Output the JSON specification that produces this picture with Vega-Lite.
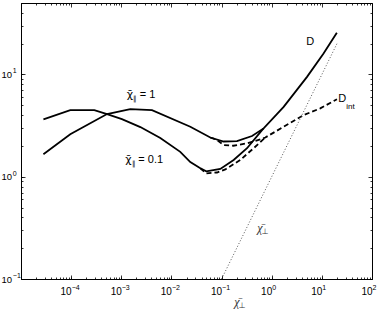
{
  "$schema": "https://vega.github.io/schema/vega-lite/v6.json",
  "width": 351,
  "height": 276,
  "autosize": "none",
  "padding": {"left": 21, "top": 3, "right": 10, "bottom": 32},
  "background": "white",
  "config": {
    "view": {"stroke": "black", "strokeWidth": 1},
    "font": "Liberation Sans",
    "axis": {
      "grid": false,
      "domainColor": "black",
      "domainWidth": 1,
      "tickColor": "black",
      "tickWidth": 0.8,
      "labelColor": "black",
      "labelFont": "Liberation Sans",
      "labelOverlap": false,
      "labelBound": false,
      "labelFlush": false,
      "title": null
    }
  },
  "datasets": {
    "curves": [
      {"kind": "D", "chi": "1", "x": 2.8e-5, "y": 1.66},
      {"kind": "D", "chi": "1", "x": 9.6e-5, "y": 2.60},
      {"kind": "D", "chi": "1", "x": 5.2e-4, "y": 4.10},
      {"kind": "D", "chi": "1", "x": 1.51e-3, "y": 4.59},
      {"kind": "D", "chi": "1", "x": 4.1e-3, "y": 4.48},
      {"kind": "D", "chi": "1", "x": 0.0238, "y": 3.08},
      {"kind": "D", "chi": "1", "x": 0.0596, "y": 2.42},
      {"kind": "D", "chi": "1", "x": 0.110, "y": 2.21},
      {"kind": "D", "chi": "1", "x": 0.203, "y": 2.23},
      {"kind": "D", "chi": "1", "x": 0.405, "y": 2.50},
      {"kind": "D", "chi": "1", "x": 0.69, "y": 2.97},
      {"kind": "D", "chi": "1", "x": 1.73, "y": 4.83},
      {"kind": "D", "chi": "1", "x": 5.06, "y": 9.48},
      {"kind": "D", "chi": "1", "x": 10.8, "y": 16.0},
      {"kind": "D", "chi": "1", "x": 19.9, "y": 25.6},
      {"kind": "D", "chi": "0.1", "x": 2.8e-5, "y": 3.64},
      {"kind": "D", "chi": "0.1", "x": 9.6e-5, "y": 4.49},
      {"kind": "D", "chi": "0.1", "x": 2.9e-4, "y": 4.49},
      {"kind": "D", "chi": "0.1", "x": 5.2e-4, "y": 4.10},
      {"kind": "D", "chi": "0.1", "x": 1.03e-3, "y": 3.66},
      {"kind": "D", "chi": "0.1", "x": 2.4e-3, "y": 3.06},
      {"kind": "D", "chi": "0.1", "x": 6.0e-3, "y": 2.39},
      {"kind": "D", "chi": "0.1", "x": 0.0150, "y": 1.75},
      {"kind": "D", "chi": "0.1", "x": 0.0238, "y": 1.39},
      {"kind": "D", "chi": "0.1", "x": 0.0377, "y": 1.21},
      {"kind": "D", "chi": "0.1", "x": 0.0496, "y": 1.13},
      {"kind": "D", "chi": "0.1", "x": 0.0944, "y": 1.19},
      {"kind": "D", "chi": "0.1", "x": 0.174, "y": 1.46},
      {"kind": "D", "chi": "0.1", "x": 0.322, "y": 1.90},
      {"kind": "D", "chi": "0.1", "x": 0.641, "y": 2.86},
      {"kind": "D", "chi": "0.1", "x": 0.69, "y": 2.97},
      {"kind": "Dint", "chi": "1", "x": 0.0596, "y": 2.42},
      {"kind": "Dint", "chi": "1", "x": 0.0811, "y": 2.29},
      {"kind": "Dint", "chi": "1", "x": 0.110, "y": 2.04},
      {"kind": "Dint", "chi": "1", "x": 0.171, "y": 2.01},
      {"kind": "Dint", "chi": "1", "x": 0.322, "y": 2.12},
      {"kind": "Dint", "chi": "1", "x": 0.593, "y": 2.32},
      {"kind": "Dint", "chi": "1", "x": 0.745, "y": 2.42},
      {"kind": "Dint", "chi": "1", "x": 1.73, "y": 3.08},
      {"kind": "Dint", "chi": "1", "x": 4.32, "y": 4.01},
      {"kind": "Dint", "chi": "1", "x": 9.3, "y": 4.66},
      {"kind": "Dint", "chi": "1", "x": 20.0, "y": 5.73},
      {"kind": "Dint", "chi": "0.1", "x": 0.0377, "y": 1.21},
      {"kind": "Dint", "chi": "0.1", "x": 0.0496, "y": 1.08},
      {"kind": "Dint", "chi": "0.1", "x": 0.0811, "y": 1.10},
      {"kind": "Dint", "chi": "0.1", "x": 0.119, "y": 1.18},
      {"kind": "Dint", "chi": "0.1", "x": 0.237, "y": 1.46},
      {"kind": "Dint", "chi": "0.1", "x": 0.436, "y": 1.90},
      {"kind": "Dint", "chi": "0.1", "x": 0.745, "y": 2.42},
      {"kind": "perp", "chi": "-", "x": 0.1, "y": 0.1},
      {"kind": "perp", "chi": "-", "x": 20.0, "y": 20.0}
    ]
  },
  "layer": [
    {
      "data": {"name": "curves"},
      "transform": [{"filter": "datum.kind === 'D'"}],
      "mark": {"type": "line", "color": "black", "strokeWidth": 1.8, "clip": true},
      "encoding": {
        "x": {"field": "x", "type": "quantitative",
          "scale": {"type": "log", "domain": [1e-5, 100], "nice": false},
          "axis": {"orient": "bottom", "values": [1e-4, 1e-3, 0.01, 0.1, 1, 10, 100], "tickSize": -4,
            "labelExpr": "'10'", "labelAlign": "right", "labelBaseline": "alphabetic", "labelPadding": 19, "labelFontSize": 10}},
        "y": {"field": "y", "type": "quantitative",
          "scale": {"type": "log", "domain": [0.1, 50], "nice": false},
          "axis": {"orient": "left", "values": [0.1, 1, 10], "tickSize": -4,
            "labelExpr": "'10'", "labelAlign": "right", "labelBaseline": "middle", "labelPadding": 13.4, "labelFontSize": 9.5}},
        "detail": {"field": "chi"}
      }
    },
    {
      "data": {"name": "curves"},
      "transform": [{"filter": "datum.kind === 'Dint'"}],
      "mark": {"type": "line", "color": "black", "strokeWidth": 1.8, "strokeDash": [5, 3], "clip": true},
      "encoding": {
        "x": {"field": "x", "type": "quantitative",
          "scale": {"type": "log", "domain": [1e-5, 100], "nice": false},
          "axis": {"orient": "bottom",
            "values": [1e-5,2e-5,3e-5,4e-5,5e-5,6e-5,7e-5,8e-5,9e-5,1e-4,2e-4,3e-4,4e-4,5e-4,6e-4,7e-4,8e-4,9e-4,0.001,0.002,0.003,0.004,0.005,0.006,0.007,0.008,0.009,0.01,0.02,0.03,0.04,0.05,0.06,0.07,0.08,0.09,0.1,0.2,0.3,0.4,0.5,0.6,0.7,0.8,0.9,1,2,3,4,5,6,7,8,9,10,20,30,40,50,60,70,80,90,100],
            "tickSize": -2, "domain": false,
            "labelExpr": "datum.value > 2e-5 && abs(log(datum.value)/LN10 - round(log(datum.value)/LN10)) < 1e-6 ? format(round(log(datum.value)/LN10), 'd') : ''",
            "labelAlign": "left", "labelBaseline": "alphabetic", "labelPadding": 12.5, "labelFontSize": 7}},
        "y": {"field": "y", "type": "quantitative",
          "scale": {"type": "log", "domain": [0.1, 50], "nice": false},
          "axis": {"orient": "left",
            "values": [0.1,0.2,0.3,0.4,0.5,0.6,0.7,0.8,0.9,1,2,3,4,5,6,7,8,9,10,20,30,40,50],
            "tickSize": -2, "domain": false,
            "labelExpr": "abs(log(datum.value)/LN10 - round(log(datum.value)/LN10)) < 1e-6 ? format(round(log(datum.value)/LN10), 'd') : ''",
            "labelAlign": "left", "labelBaseline": "middle", "labelPadding": 10.7, "labelOffset": -3.5, "labelFontSize": 7}},
        "detail": {"field": "chi"}
      }
    },
    {
      "data": {"name": "curves"},
      "transform": [{"filter": "datum.kind === 'perp'"}],
      "mark": {"type": "line", "color": "#555555", "strokeWidth": 1, "strokeDash": [1, 2], "clip": true},
      "encoding": {
        "x": {"field": "x", "type": "quantitative",
          "scale": {"type": "log", "domain": [1e-5, 100], "nice": false},
          "axis": {"orient": "top", "values": [1e-4, 1e-3, 0.01, 0.1, 1, 10], "tickSize": -4, "labels": false}},
        "y": {"field": "y", "type": "quantitative",
          "scale": {"type": "log", "domain": [0.1, 50], "nice": false},
          "axis": {"orient": "right", "values": [1, 10], "tickSize": -4, "labels": false}}
      }
    },
    {
      "data": {"values": [
        {"x": 5.89, "y": 20.8, "t": "D"},
        {"x": 25.6, "y": 5.74, "t": "D"}
      ]},
      "mark": {"type": "text", "fontSize": 11, "align": "center", "baseline": "middle", "color": "black", "font": "Liberation Sans"},
      "encoding": {
        "x": {"field": "x", "type": "quantitative",
          "scale": {"type": "log", "domain": [1e-5, 100], "nice": false},
          "axis": {"orient": "top",
            "values": [2e-5,3e-5,4e-5,5e-5,6e-5,7e-5,8e-5,9e-5,2e-4,3e-4,4e-4,5e-4,6e-4,7e-4,8e-4,9e-4,0.002,0.003,0.004,0.005,0.006,0.007,0.008,0.009,0.02,0.03,0.04,0.05,0.06,0.07,0.08,0.09,0.2,0.3,0.4,0.5,0.6,0.7,0.8,0.9,2,3,4,5,6,7,8,9,20,30,40,50,60,70,80,90],
            "tickSize": -2, "labels": false, "domain": false}},
        "y": {"field": "y", "type": "quantitative",
          "scale": {"type": "log", "domain": [0.1, 50], "nice": false},
          "axis": {"orient": "right",
            "values": [0.2,0.3,0.4,0.5,0.6,0.7,0.8,0.9,2,3,4,5,6,7,8,9,20,30,40],
            "tickSize": -2, "labels": false, "domain": false}},
        "text": {"field": "t"}
      }
    },
    {
      "data": {"values": [
        {"x": 1.48e-3, "y": 6.28, "t": "χ̄"},
        {"x": 1.38e-3, "y": 1.46, "t": "χ̄"}
      ]},
      "mark": {"type": "text", "fontSize": 11, "align": "center", "baseline": "middle", "color": "black", "font": "DejaVu Sans"},
      "encoding": {
        "x": {"field": "x", "type": "quantitative", "scale": {"type": "log", "domain": [1e-5, 100], "nice": false}, "axis": null},
        "y": {"field": "y", "type": "quantitative", "scale": {"type": "log", "domain": [0.1, 50], "nice": false}, "axis": null},
        "text": {"field": "t"}
      }
    },
    {
      "data": {"values": [
        {"x": 1.48e-3, "y": 6.28, "t": "= 1"},
        {"x": 1.38e-3, "y": 1.46, "t": "= 0.1"}
      ]},
      "mark": {"type": "text", "fontSize": 11, "align": "left", "baseline": "middle", "dx": 10, "color": "black", "font": "Liberation Sans"},
      "encoding": {
        "x": {"field": "x", "type": "quantitative", "scale": {"type": "log", "domain": [1e-5, 100], "nice": false}, "axis": null},
        "y": {"field": "y", "type": "quantitative", "scale": {"type": "log", "domain": [0.1, 50], "nice": false}, "axis": null},
        "text": {"field": "t"}
      }
    },
    {
      "data": {"values": [
        {"x": 1.48e-3, "y": 6.28, "t": "∥"},
        {"x": 1.38e-3, "y": 1.46, "t": "∥"}
      ]},
      "mark": {"type": "text", "fontSize": 7, "align": "left", "baseline": "middle", "dx": 3.5, "dy": 4, "color": "black", "font": "Liberation Sans"},
      "encoding": {
        "x": {"field": "x", "type": "quantitative", "scale": {"type": "log", "domain": [1e-5, 100], "nice": false}, "axis": null},
        "y": {"field": "y", "type": "quantitative", "scale": {"type": "log", "domain": [0.1, 50], "nice": false}, "axis": null},
        "text": {"field": "t"}
      }
    },
    {
      "data": {"values": [
        {"x": 25.6, "y": 5.74, "t": "int"}
      ]},
      "mark": {"type": "text", "fontSize": 8, "align": "left", "baseline": "middle", "dx": 4, "dy": 8, "color": "black", "font": "Liberation Sans"},
      "encoding": {
        "x": {"field": "x", "type": "quantitative", "scale": {"type": "log", "domain": [1e-5, 100], "nice": false}, "axis": null},
        "y": {"field": "y", "type": "quantitative", "scale": {"type": "log", "domain": [0.1, 50], "nice": false}, "axis": null},
        "text": {"field": "t"}
      }
    },
    {
      "data": {"values": [
        {"x": 0.579, "y": 0.3165, "t": "χ̄"},
        {"x": 0.201, "y": 0.0600, "t": "χ̄"}
      ]},
      "mark": {"type": "text", "fontSize": 12, "fontStyle": "italic", "align": "center", "baseline": "middle", "color": "#333333", "font": "Liberation Serif"},
      "encoding": {
        "x": {"field": "x", "type": "quantitative", "scale": {"type": "log", "domain": [1e-5, 100], "nice": false}, "axis": null},
        "y": {"field": "y", "type": "quantitative", "scale": {"type": "log", "domain": [0.1, 50], "nice": false}, "axis": null},
        "text": {"field": "t"}
      }
    },
    {
      "data": {"values": [
        {"x": 0.579, "y": 0.3165, "t": "⊥"},
        {"x": 0.201, "y": 0.0600, "t": "⊥"}
      ]},
      "mark": {"type": "text", "fontSize": 8, "align": "center", "baseline": "middle", "dx": 5.5, "dy": 4.5, "color": "#333333", "font": "DejaVu Sans"},
      "encoding": {
        "x": {"field": "x", "type": "quantitative", "scale": {"type": "log", "domain": [1e-5, 100], "nice": false}, "axis": null},
        "y": {"field": "y", "type": "quantitative", "scale": {"type": "log", "domain": [0.1, 50], "nice": false}, "axis": null},
        "text": {"field": "t"}
      }
    }
  ],
  "resolve": {"axis": {"x": "independent", "y": "independent"}}
}
